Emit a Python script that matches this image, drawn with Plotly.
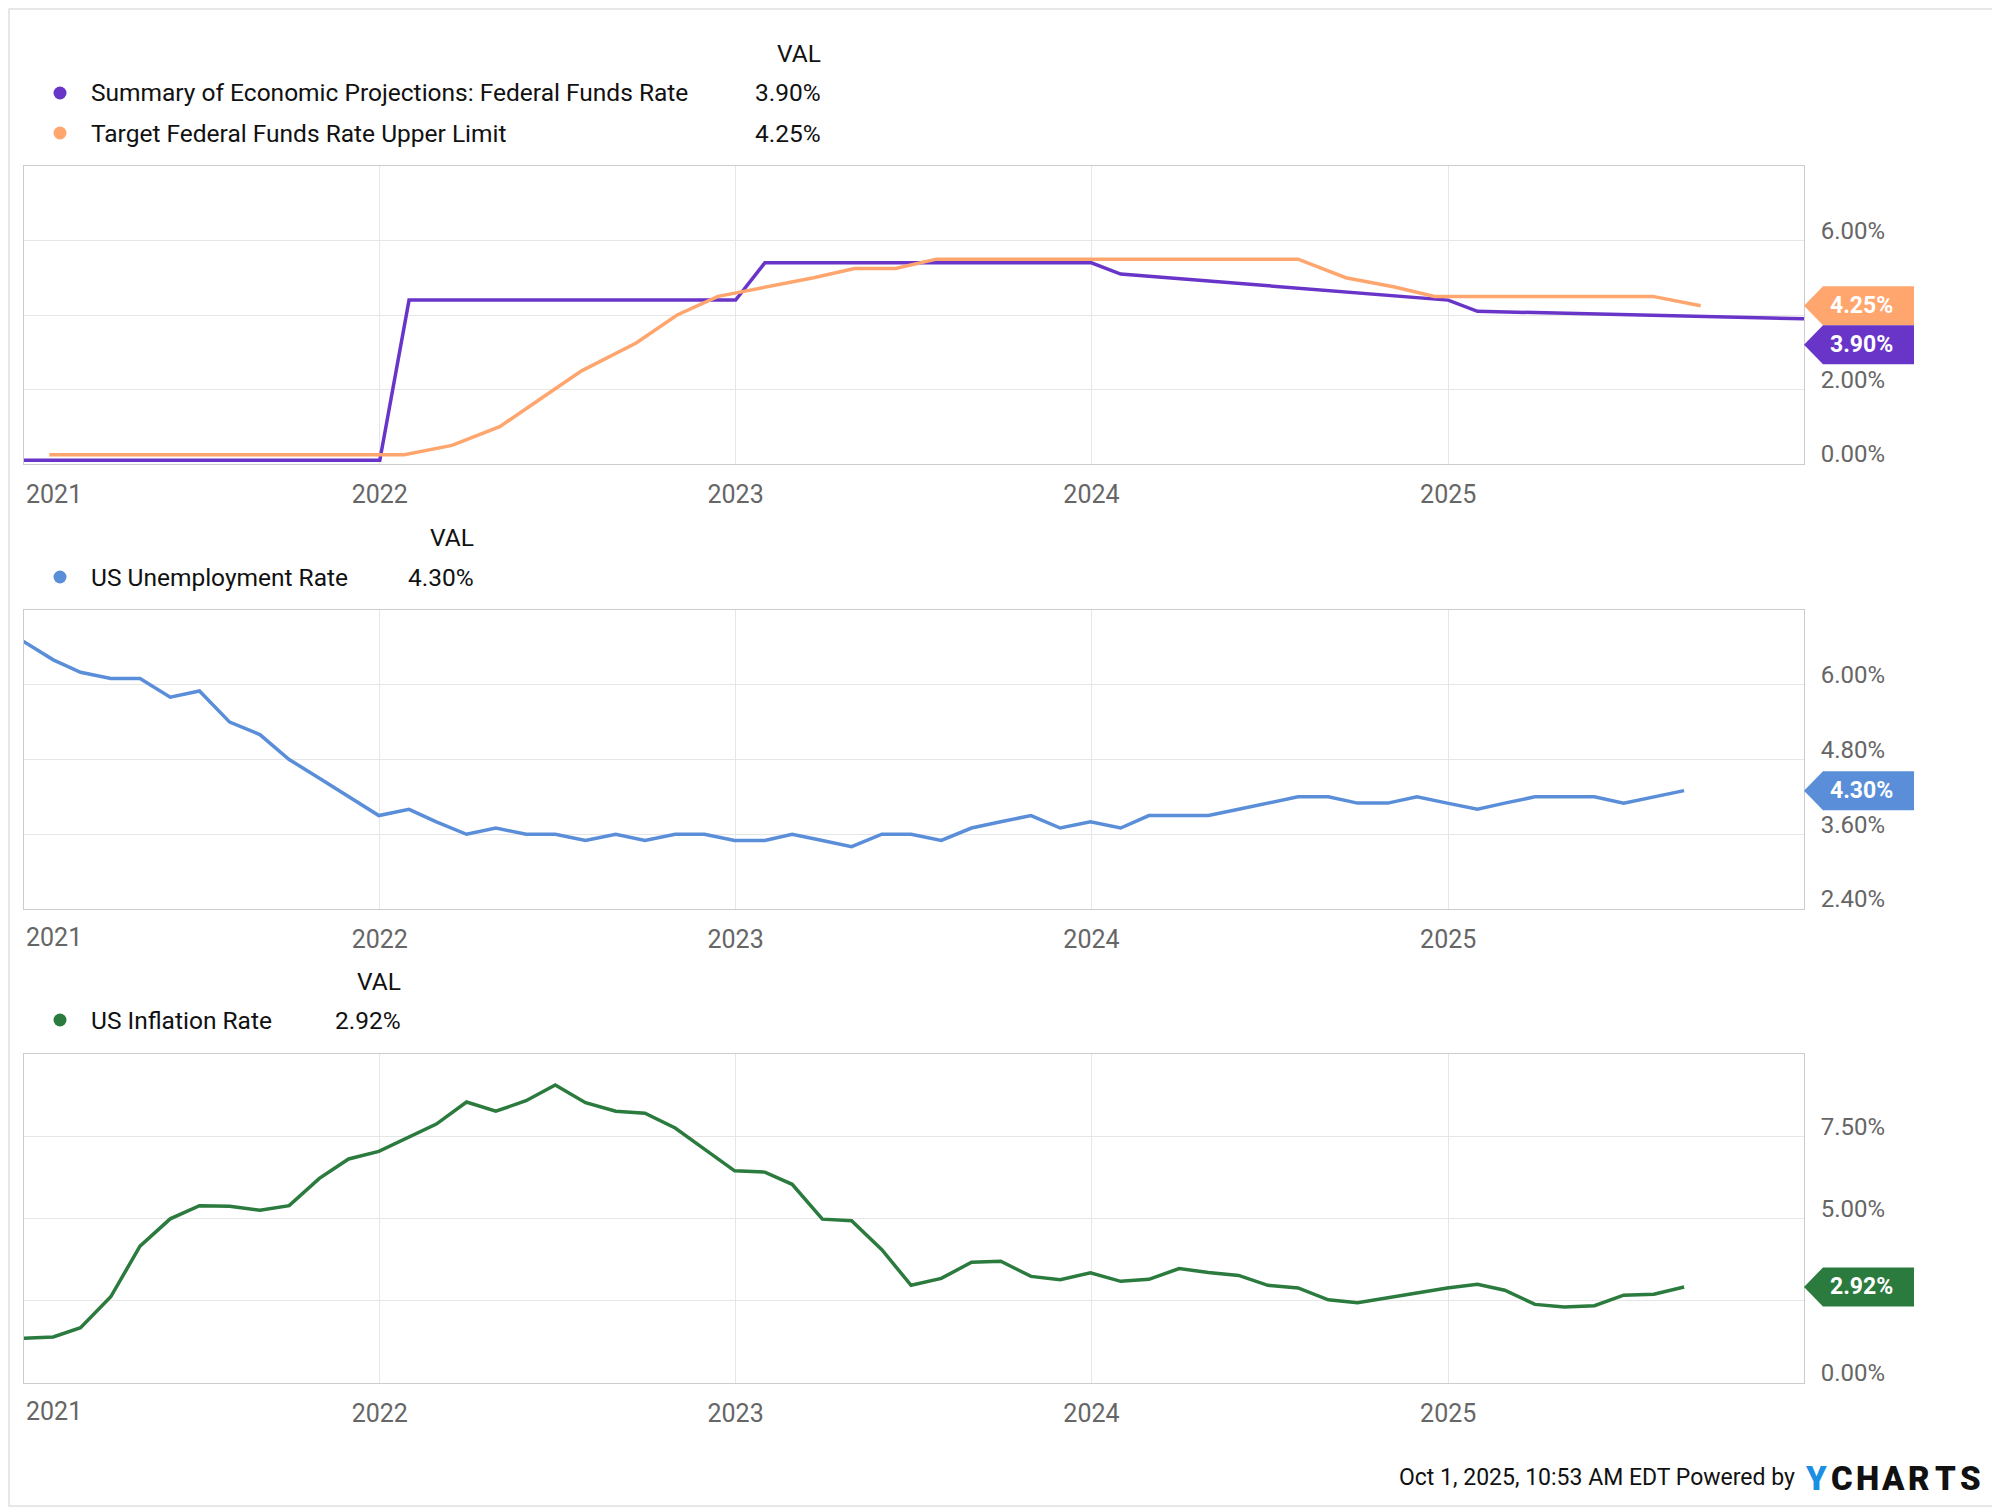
import plotly.graph_objects as go
import pandas as pd

# ---------------- data ----------------
sep_dates = ["2021-01-01", "2022-01-01", "2022-01-31", "2023-01-01", "2023-01-31",
             "2024-01-01", "2024-01-31", "2025-01-01", "2025-01-31", "2026-01-01"]
sep_vals = [0.1, 0.1, 4.4, 4.4, 5.4, 5.4, 5.1, 4.4, 4.1, 3.9]

fed_dates = ["2021-01-27", "2021-03-17", "2021-04-28", "2021-06-16", "2021-07-28", "2021-09-22",
             "2021-11-03", "2021-12-15", "2022-01-26", "2022-03-16", "2022-05-04", "2022-06-15",
             "2022-07-27", "2022-09-21", "2022-11-02", "2022-12-14", "2023-02-01", "2023-03-22",
             "2023-05-03", "2023-06-14", "2023-07-26", "2023-09-20", "2023-11-01", "2023-12-13",
             "2024-01-31", "2024-03-20", "2024-05-01", "2024-06-12", "2024-07-31", "2024-09-18",
             "2024-11-07", "2024-12-18", "2025-01-29", "2025-03-19", "2025-05-07", "2025-06-18",
             "2025-07-30", "2025-09-17"]
fed_vals = [0.25, 0.25, 0.25, 0.25, 0.25, 0.25, 0.25, 0.25, 0.25, 0.5, 1.0, 1.75,
            2.5, 3.25, 4.0, 4.5, 4.75, 5.0, 5.25, 5.25, 5.5, 5.5, 5.5, 5.5,
            5.5, 5.5, 5.5, 5.5, 5.5, 5.0, 4.75, 4.5, 4.5, 4.5, 4.5, 4.5, 4.5, 4.25]

month_dates = pd.date_range("2020-12-31", "2025-08-31", freq="ME")

unemp_vals = [6.7, 6.4, 6.2, 6.1, 6.1, 5.8, 5.9, 5.4, 5.2, 4.8, 4.5, 4.2, 3.9,
              4.0, 3.8, 3.6, 3.7, 3.6, 3.6, 3.5, 3.6, 3.5, 3.6, 3.6, 3.5,
              3.5, 3.6, 3.5, 3.4, 3.6, 3.6, 3.5, 3.7, 3.8, 3.9, 3.7, 3.8,
              3.7, 3.9, 3.9, 3.9, 4.0, 4.1, 4.2, 4.2, 4.1, 4.1, 4.2, 4.1,
              4.0, 4.1, 4.2, 4.2, 4.2, 4.1, 4.2, 4.3]

infl_vals = [1.36, 1.40, 1.68, 2.62, 4.16, 4.99, 5.39, 5.37, 5.25, 5.39, 6.22, 6.81, 7.04,
             7.48, 7.87, 8.54, 8.26, 8.58, 9.06, 8.52, 8.26, 8.20, 7.75, 7.11, 6.45,
             6.41, 6.04, 4.98, 4.93, 4.05, 2.97, 3.18, 3.67, 3.70, 3.24, 3.14, 3.35,
             3.09, 3.15, 3.48, 3.36, 3.27, 2.97, 2.89, 2.53, 2.44, 2.60, 2.75, 2.89,
             3.00, 2.82, 2.39, 2.31, 2.35, 2.67, 2.70, 2.92]

year_ticks = ["2022-01-01", "2023-01-01", "2024-01-01", "2025-01-01"]
year_labels = ["2022", "2023", "2024", "2025"]

y1_ticks = [0, 2, 4, 6]
y1_labels = ["0.00%", "2.00%", "", "6.00%"]
y2_ticks = [2.4, 3.6, 4.8, 6.0]
y2_labels = ["2.40%", "3.60%", "4.80%", "6.00%"]
y3_ticks = [0, 2.5, 5, 7.5]
y3_labels = ["0.00%", "", "5.00%", "7.50%"]

names = ["Summary of Economic Projections: Federal Funds Rate",
         "Target Federal Funds Rate Upper Limit",
         "US Unemployment Rate", "US Inflation Rate"]
last_labels = ["3.90%", "4.25%", "4.30%", "2.92%"]
colors = ["#6935c9", "#ffa66f", "#5a8ed9", "#2b7a3e"]

# ---------------- geometry helpers (page pixel coords) ----------------
OFF = 8                      # page offset of the plot div
W, H = 2000 - OFF, 1508 - OFF
L_PAGE, R_PAGE, T_PAGE, B_PAGE = 24, 1804, 166, 1383
PW = R_PAGE - L_PAGE
PH = B_PAGE - T_PAGE
ML, MT = L_PAGE - OFF, T_PAGE - OFF
MR, MB = W - (R_PAGE - OFF), H - (B_PAGE - OFF)


def px(x):
    return (x - L_PAGE) / PW


def py(y):
    return (B_PAGE - y) / PH


FONT = "Roboto"
TICKC = "#666666"
GRID = "#e6e6e6"
LINEC = "#cccccc"

fig = go.Figure()
fig.add_trace(go.Scatter(x=sep_dates, y=sep_vals, mode="lines", line=dict(color=colors[0], width=3.5),
                         xaxis="x", yaxis="y", showlegend=False))
fig.add_trace(go.Scatter(x=fed_dates, y=fed_vals, mode="lines", line=dict(color=colors[1], width=3.5),
                         xaxis="x", yaxis="y", showlegend=False))
fig.add_trace(go.Scatter(x=month_dates, y=unemp_vals, mode="lines", line=dict(color=colors[2], width=3.5),
                         xaxis="x2", yaxis="y2", showlegend=False))
fig.add_trace(go.Scatter(x=month_dates, y=infl_vals, mode="lines", line=dict(color=colors[3], width=3.5),
                         xaxis="x3", yaxis="y3", showlegend=False))

xcommon = dict(type="date", range=["2021-01-01", "2026-01-01"], domain=[0, 1],
               tickvals=year_ticks, ticktext=year_labels, showgrid=True, gridcolor=GRID, gridwidth=1,
               showline=True, mirror=True, linecolor=LINEC, linewidth=1, ticks="",
               tickfont=dict(family=FONT, size=25, color=TICKC), ticklabelstandoff=8,
               zeroline=False, fixedrange=True)
ycommon = dict(side="right", showgrid=True, gridcolor=GRID, gridwidth=1, showline=True, mirror=True,
               linecolor=LINEC, linewidth=1, ticks="", zeroline=False,
               tickfont=dict(family=FONT, size=24, color=TICKC), ticklabelstandoff=11,
               ticklabelshift=-10, fixedrange=True)

fig.update_layout(
    width=W, height=H, margin=dict(l=ML, r=MR, t=MT, b=MB, autoexpand=False),
    paper_bgcolor="white", plot_bgcolor="white",
    xaxis=dict(**xcommon, anchor="y"),
    xaxis2=dict(**xcommon, anchor="y2"),
    xaxis3=dict(**xcommon, anchor="y3"),
    yaxis=dict(**ycommon, anchor="x", domain=[py(464), py(166)], range=[0, 8],
               tickvals=y1_ticks, ticktext=y1_labels),
    yaxis2=dict(**ycommon, anchor="x2", domain=[py(909), py(610)], range=[2.4, 7.2],
                tickvals=y2_ticks, ticktext=y2_labels),
    yaxis3=dict(**ycommon, anchor="x3", domain=[py(1383), py(1054)], range=[0, 10],
                tickvals=y3_ticks, ticktext=y3_labels),
)

shapes = []
annotations = []

# outer border
shapes.append(dict(type="rect", xref="paper", yref="paper", x0=px(9), x1=px(1997), y0=py(1506), y1=py(9),
                   line=dict(color="#e0e0e0", width=1.5), fillcolor="rgba(0,0,0,0)", layer="below"))

# 2021 labels (left-aligned at plot edge)
for xa, ylab in [("x", 494), ("x2", 938), ("x3", 1411)]:
    annotations.append(dict(xref=xa, yref="paper", x="2021-01-01", y=py(ylab), xanchor="left",
                            yanchor="middle", text="2021", showarrow=False,
                            font=dict(family=FONT, size=25, color=TICKC)))


def legend_row(y, name, val, color, val_right):
    shapes.append(dict(type="circle", xref="paper", yref="paper", xsizemode="pixel", ysizemode="pixel",
                       xanchor=px(60), yanchor=py(y), x0=-6.5, x1=6.5, y0=-6.5, y1=6.5,
                       fillcolor=color, line=dict(width=0)))
    annotations.append(dict(xref="paper", yref="paper", x=px(88.5), y=py(y), xanchor="left", yanchor="middle",
                            text=name, showarrow=False, font=dict(family=FONT, size=24.5, color="#111111")))
    annotations.append(dict(xref="paper", yref="paper", x=px(val_right), y=py(y), xanchor="right",
                            yanchor="middle", text=val, showarrow=False,
                            font=dict(family=FONT, size=24.5, color="#111111")))


def val_header(y, right):
    annotations.append(dict(xref="paper", yref="paper", x=px(right), y=py(y), xanchor="right", yanchor="middle",
                            text="VAL", showarrow=False, font=dict(family=FONT, size=24.5, color="#111111")))


val_header(54, 822.5)
legend_row(93, names[0], last_labels[0], colors[0], 822.5)
legend_row(133, names[1], last_labels[1], colors[1], 822.5)
val_header(537, 476.5)
legend_row(577, names[2], last_labels[2], colors[2], 476.5)
val_header(981, 402.5)
legend_row(1020, names[3], last_labels[3], colors[3], 402.5)


def badge(yref, yval, color, text, yoff=0):
    h = 19.5
    path = (f"M0,{yoff} L19,{yoff + h} L110,{yoff + h} L110,{yoff - h} L19,{yoff - h} Z")
    shapes.append(dict(type="path", xref="paper", yref=yref, xsizemode="pixel", ysizemode="pixel",
                       xanchor=1, yanchor=yval, path=path, fillcolor=color, line=dict(width=0),
                       layer="above"))
    annotations.append(dict(xref="paper", yref=yref, x=1, y=yval, xshift=57, yshift=yoff,
                            xanchor="center", yanchor="middle", text=f"<b>{text}</b>", showarrow=False,
                            font=dict(family=FONT, size=23, color="white")))


badge("y", fed_vals[-1], colors[1], last_labels[1])
badge("y", sep_vals[-1], colors[0], last_labels[0], yoff=-26)
badge("y2", unemp_vals[-1], colors[2], last_labels[2])
badge("y3", infl_vals[-1], colors[3], last_labels[3])

# footer
annotations.append(dict(xref="paper", yref="paper", x=px(1797), y=py(1477), xanchor="right", yanchor="middle",
                        text="Oct 1, 2025, 10:53 AM EDT Powered by", showarrow=False,
                        font=dict(family=FONT, size=23, color="#111111")))
logo = "YCHARTS"
for i, ch in enumerate(logo):
    annotations.append(dict(xref="paper", yref="paper", x=px(1816 + i * 25.8), y=py(1478), xanchor="center",
                            yanchor="middle", text=ch, showarrow=False,
                            font=dict(family=FONT, size=33, weight=900,
                                      color="#1a8fe3" if i == 0 else "#111111")))

fig.update_layout(shapes=shapes, annotations=annotations)
fig.write_html("out.html")
